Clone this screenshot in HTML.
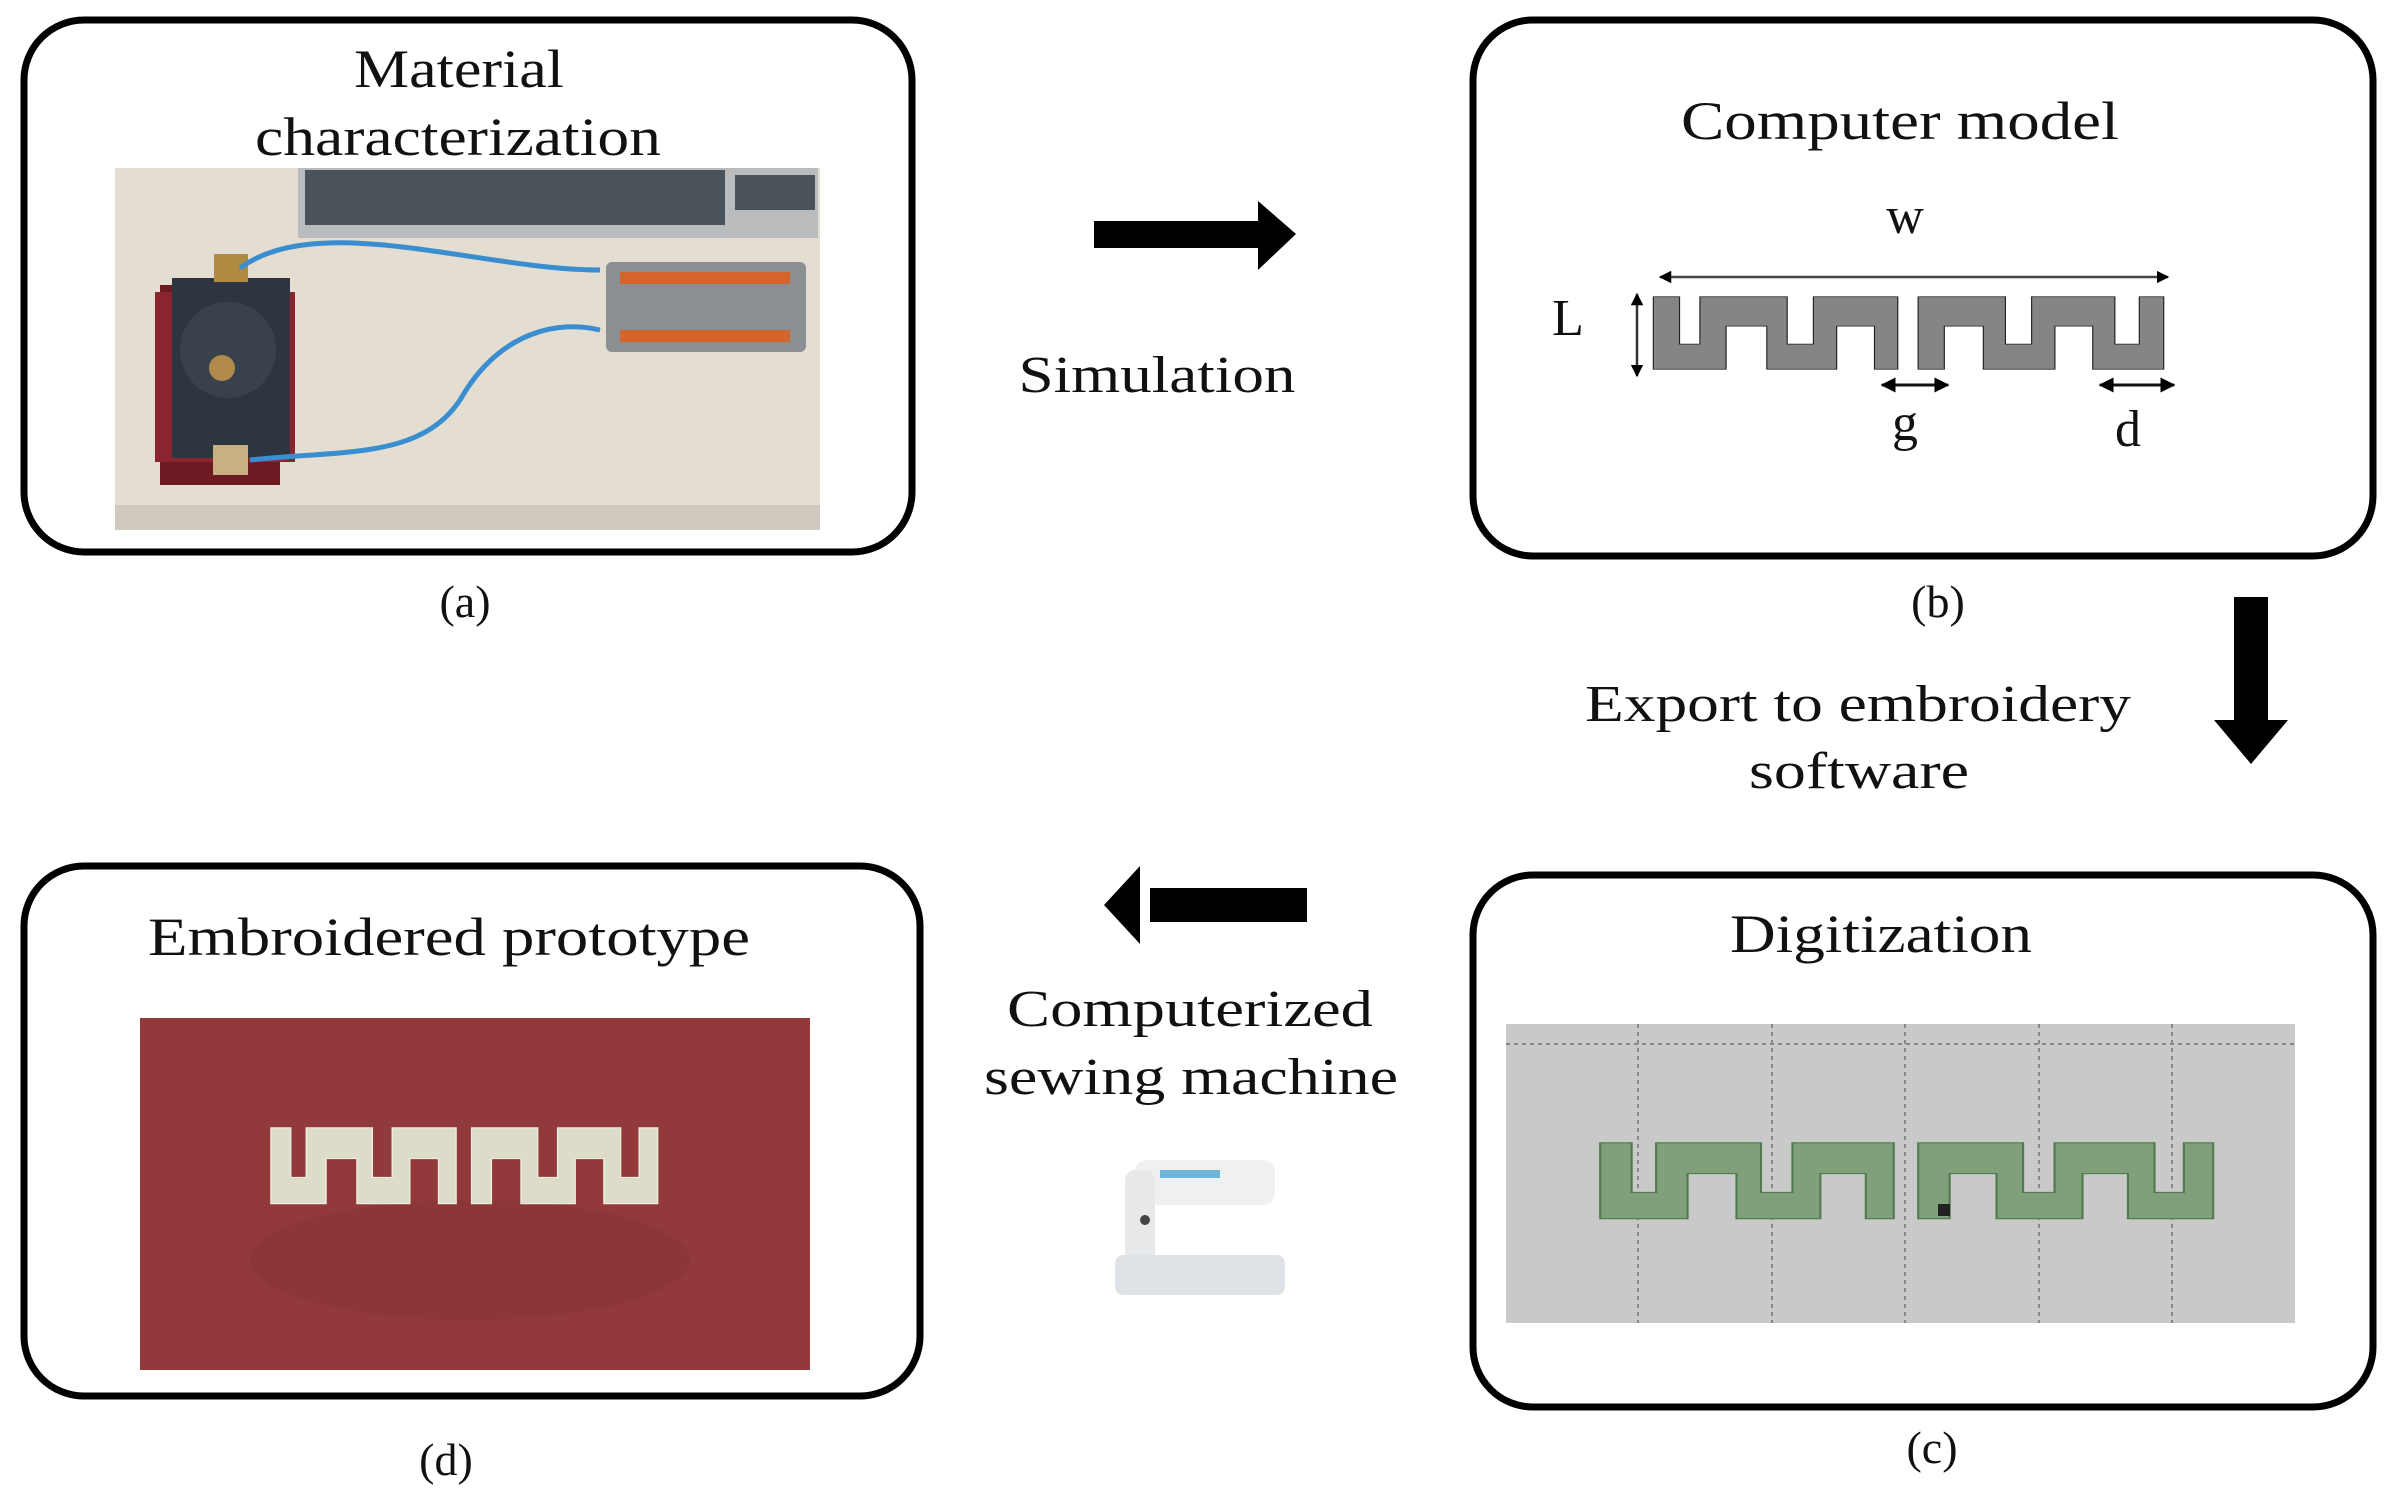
<!DOCTYPE html>
<html><head><meta charset="utf-8"><style>
html,body{margin:0;padding:0;background:#fff}
svg{display:block}
text{font-family:"Liberation Serif",serif;fill:#111}
</style></head><body>
<svg width="2390" height="1499" viewBox="0 0 2390 1499" xmlns="http://www.w3.org/2000/svg">
<defs>
<path id="mz" d="M315,768 L360,768 L360,900 L395,900 L395,768 L545,768 L545,900 L590,900 L590,768 L735,768 L735,970 L695,970 L695,850 L630,850 L630,970 L510,970 L510,850 L440,850 L440,970 L315,970 Z M770,768 L920,768 L920,900 L965,900 L965,768 L1108,768 L1108,900 L1150,900 L1150,768 L1192,768 L1192,970 L1070,970 L1070,850 L1005,850 L1005,970 L882,970 L882,850 L815,850 L815,970 L770,970 Z"/>
<marker id="ah" viewBox="0 0 10 10" refX="9" refY="5" markerWidth="5" markerHeight="5" orient="auto-start-reverse"><path d="M0,0 L10,5 L0,10 Z" fill="#000"/></marker>
</defs>

<rect x="24" y="20" width="888" height="532" rx="60" fill="none" stroke="#000" stroke-width="7"/>
<rect x="1473" y="20" width="900" height="536" rx="60" fill="none" stroke="#000" stroke-width="7"/>
<rect x="24" y="866" width="896" height="530" rx="60" fill="none" stroke="#000" stroke-width="7"/>
<rect x="1473" y="875" width="900" height="532" rx="60" fill="none" stroke="#000" stroke-width="7"/>

<text x="459" y="87" font-size="54" text-anchor="middle" textLength="210" lengthAdjust="spacingAndGlyphs">Material</text>
<text x="458" y="155" font-size="54" text-anchor="middle" textLength="406" lengthAdjust="spacingAndGlyphs">characterization</text>
<rect x="115" y="168" width="705" height="362" fill="#e4ddd1"/>
<rect x="115" y="505" width="705" height="25" fill="#cfc9c0"/>
<rect x="298" y="168" width="520" height="70" fill="#b9bbbc"/>
<rect x="305" y="170" width="420" height="55" fill="#4a525a"/>
<rect x="735" y="175" width="80" height="35" fill="#4a525a"/>
<rect x="160" y="285" width="120" height="200" fill="#6e1a22"/>
<rect x="155" y="292" width="140" height="170" fill="#8a2530"/>
<rect x="172" y="278" width="118" height="180" fill="#2d3540"/>
<circle cx="228" cy="350" r="48" fill="#38414c"/>
<circle cx="222" cy="368" r="13" fill="#b08a4a"/>
<rect x="214" y="254" width="34" height="28" fill="#b08a40"/>
<rect x="213" y="445" width="35" height="30" fill="#c9b080"/>
<rect x="606" y="262" width="200" height="90" rx="6" fill="#8a8f94"/>
<rect x="620" y="272" width="170" height="12" fill="#d4652a"/>
<rect x="620" y="330" width="170" height="12" fill="#d4652a"/>
<path d="M240,268 C320,210 480,270 600,270" fill="none" stroke="#3a8ed0" stroke-width="5"/>
<path d="M250,460 C340,450 420,460 460,400 C500,330 560,320 600,330" fill="none" stroke="#3a8ed0" stroke-width="5"/>
<text x="465" y="617" font-size="46" text-anchor="middle">(a)</text>

<rect x="1094" y="221" width="170" height="27" fill="#000"/>
<path d="M1258,201 L1296,234 L1258,270 Z" fill="#000"/>
<text x="1157" y="392" font-size="52" text-anchor="middle" textLength="277" lengthAdjust="spacingAndGlyphs">Simulation</text>

<g transform="translate(1470,21) scale(0.582,0.359)">
<use href="#mz" fill="#858585" stroke="#222" stroke-width="2" vector-effect="non-scaling-stroke"/>
</g>
<text x="1900" y="139" font-size="54" text-anchor="middle" textLength="438" lengthAdjust="spacingAndGlyphs">Computer model</text>
<text x="1905" y="233" font-size="52" text-anchor="middle">w</text>
<text x="1568" y="335" font-size="52" text-anchor="middle">L</text>
<line x1="1660" y1="277" x2="2168" y2="277" stroke="#444" stroke-width="2.5" marker-start="url(#ah)" marker-end="url(#ah)"/>
<line x1="1637" y1="294" x2="1637" y2="376" stroke="#333" stroke-width="2.5" marker-start="url(#ah)" marker-end="url(#ah)"/>
<line x1="1882" y1="385" x2="1948" y2="385" stroke="#111" stroke-width="3" marker-start="url(#ah)" marker-end="url(#ah)"/>
<line x1="2100" y1="385" x2="2174" y2="385" stroke="#111" stroke-width="3" marker-start="url(#ah)" marker-end="url(#ah)"/>
<text x="1905" y="440" font-size="52" text-anchor="middle">g</text>
<text x="2128" y="446" font-size="52" text-anchor="middle">d</text>
<text x="1938" y="617" font-size="46" text-anchor="middle">(b)</text>

<rect x="2234" y="597" width="34" height="128" fill="#000"/>
<path d="M2214,720 L2288,720 L2251,764 Z" fill="#000"/>
<text x="1858" y="721" font-size="52" text-anchor="middle" textLength="546" lengthAdjust="spacingAndGlyphs">Export to embroidery</text>
<text x="1859" y="788" font-size="52" text-anchor="middle" textLength="220" lengthAdjust="spacingAndGlyphs">software</text>

<text x="1881" y="952" font-size="54" text-anchor="middle" textLength="302" lengthAdjust="spacingAndGlyphs">Digitization</text>
<rect x="1506" y="1024" width="789" height="299" fill="#c9c9c9"/>
<g stroke="#888" stroke-width="2" stroke-dasharray="4 4">
<line x1="1506" y1="1044" x2="2295" y2="1044"/>
<line x1="1638" y1="1024" x2="1638" y2="1323"/>
<line x1="1772" y1="1024" x2="1772" y2="1323"/>
<line x1="1905" y1="1024" x2="1905" y2="1323"/>
<line x1="2039" y1="1024" x2="2039" y2="1323"/>
<line x1="2172" y1="1024" x2="2172" y2="1323"/>
</g>
<g transform="translate(1380,854) scale(0.699,0.376)">
<use href="#mz" fill="#7fa07a" stroke="#4f7a4c" stroke-width="3" vector-effect="non-scaling-stroke"/>
</g>
<rect x="1938" y="1204" width="12" height="12" fill="#222"/>
<text x="1932" y="1463" font-size="46" text-anchor="middle">(c)</text>

<rect x="1150" y="888" width="157" height="34" fill="#000"/>
<path d="M1104,905 L1140,866 L1140,944 Z" fill="#000"/>
<text x="1190" y="1026" font-size="52" text-anchor="middle" textLength="366" lengthAdjust="spacingAndGlyphs">Computerized</text>
<text x="1191" y="1094" font-size="52" text-anchor="middle" textLength="414" lengthAdjust="spacingAndGlyphs">sewing machine</text>
<g>
<rect x="1135" y="1160" width="140" height="45" rx="12" fill="#eef0f2"/>
<rect x="1125" y="1170" width="30" height="110" rx="10" fill="#e6e8ea"/>
<rect x="1115" y="1255" width="170" height="40" rx="8" fill="#dfe2e6"/>
<rect x="1160" y="1170" width="60" height="8" fill="#6fb6d8"/>
<circle cx="1145" cy="1220" r="5" fill="#444"/>
</g>

<text x="449" y="955" font-size="54" text-anchor="middle" textLength="602" lengthAdjust="spacingAndGlyphs">Embroidered prototype</text>
<rect x="140" y="1018" width="670" height="352" fill="#923a3b"/>
<ellipse cx="470" cy="1260" rx="220" ry="60" fill="#7e2f31" opacity="0.3"/>
<g transform="translate(132,839) scale(0.441,0.376)">
<use href="#mz" fill="#dcdcc8" stroke="#eeeede" stroke-width="3" vector-effect="non-scaling-stroke"/>
</g>
<text x="446" y="1475" font-size="46" text-anchor="middle">(d)</text>
</svg>
</body></html>
